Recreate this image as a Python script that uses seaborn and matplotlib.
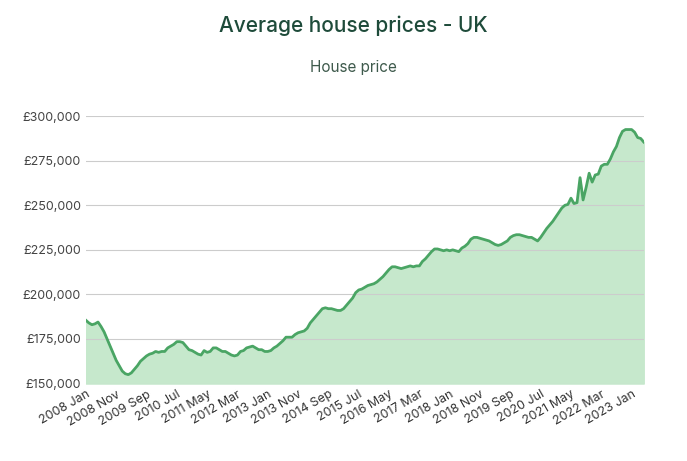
import matplotlib
matplotlib.use("Agg")
import matplotlib.pyplot as plt
import seaborn as sns
import pandas as pd

months = ["Jan","Feb","Mar","Apr","May","Jun","Jul","Aug","Sep","Oct","Nov","Dec"]
prices_k = [
 185.5,184,183,183.5,184.5,182,179,175,171,167,163,160,
 157,155.5,155,156,158,160,162.5,164,165.5,166.5,167,168,
 167.5,168,168,170,171,172,173.5,173.5,173,171,169,168.5,
 167.5,166.5,166,168.5,167.5,168,170,170,169,168,168,167,
 166,165.5,166,168,168.5,170,170.5,171,170,169,169,168,
 168,168.5,170,171,172.5,174,176,176,176,177.5,178.5,179,
 179.5,181,184,186,188,190,192,192.5,192,192,191.5,191,
 191,192,194,196,198,201,202.5,203,204,205,205.5,206,
 207,208.5,210,212,214,215.5,215.5,215,214.5,215,215.5,216,
 215.5,216,216,218.5,220,222,224,225.5,225.5,225,224.5,225,
 224.5,225,224.5,224,226,227,228.5,231,232,232,231.5,231,
 230.5,230,229,228,227.5,228,229,230,232,233,233.5,233.5,
 233,232.5,232,232,231,230,232,234.5,237,239,241,243.5,
 246,248.5,250,250.5,254,251,251.5,265.5,253,260,268,263,
 267,267.5,272,273,273,276,280,283,288,291.5,292.5,292.5,
 292.5,291,288,287.5,285.5,
]
labels = [f"{2008 + i // 12} {months[i % 12]}" for i in range(len(prices_k))]
df = pd.DataFrame({"idx": range(len(prices_k)), "price": [p * 1000 for p in prices_k], "label": labels})

plt.rcParams["font.family"] = "Inter"
fig, ax = plt.subplots(figsize=(6.87, 4.61), dpi=100)
fig.subplots_adjust(left=0.125, right=0.937, top=0.748, bottom=0.168)
sns.lineplot(data=df, x="idx", y="price", ax=ax, color="#4aa564", linewidth=2)
ax.fill_between(df["idx"], df["price"], 150000, color="#c6e8cc", zorder=0)
ax.set_ylim(150000, 300000)
ax.set_xlim(0, len(prices_k) - 1)
ax.set_yticks(range(150000, 300001, 25000))
ax.set_yticklabels([f"£{v:,}" for v in range(150000, 300001, 25000)], fontsize=9, color="#444444")
ticks = list(range(0, len(prices_k), 10))
ax.set_xticks(ticks)
ax.set_xticklabels([labels[t] for t in ticks], rotation=30, ha="right", fontsize=9, color="#333333", rotation_mode="anchor")
ax.grid(axis="y", color="#cccccc", linewidth=0.8)
ax.set_axisbelow(True)
for s in ax.spines.values():
    s.set_visible(False)
ax.tick_params(length=0)
ax.set_xlabel("")
ax.set_ylabel("")
fig.text(0.515, 0.93, "Average house prices - UK", ha="center", fontsize=15, color="#1e4b3a", fontweight="medium")
fig.text(0.515, 0.843, "House price", ha="center", fontsize=11, color="#3e5a4c")
fig.savefig("out.png", dpi=100)
